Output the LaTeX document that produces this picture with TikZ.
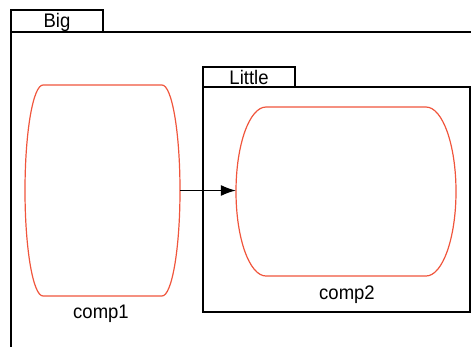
\documentclass[tikz,border=0pt]{standalone}
\usepackage{fontspec}
\setmainfont{Liberation Sans}
\usetikzlibrary{arrows.meta}
\definecolor{compred}{RGB}{240,85,60}
\tikzset{
  frame/.style={draw=black, line width=1.2pt},
  tab/.style={draw=black, line width=1.2pt},
  comp/.style={draw=compred, line width=1.2pt},
  lbl/.style={font=\fontsize{18.5}{20}\selectfont, inner sep=0pt, anchor=base, yscale=1.06, transform shape},
  conn/.style={draw=black, line width=1.1pt, -{Latex[length=15pt,width=11pt]}},
}
\begin{document}
\begin{tikzpicture}[x=1pt,y=-1pt]
\useasboundingbox (0,0) rectangle (471,346);
% Big frame
\draw[tab] (11,10) rectangle (103,32);
\draw[frame] (11,346.5) -- (11,32) -- (471.5,32);
\node[lbl] (bigl) at (57,27.5) {Big};
% Little frame
\draw[tab] (203,67) rectangle (295,87);
\draw[frame] (203,87) rectangle (470,312);
\node[lbl] (littlel) at (249,84) {Little};
% comp1
\node[minimum width=155pt, minimum height=211pt, inner sep=0pt] (comp1) at (102.5,190.5) {};
\draw[comp] (43,85) -- (162,85) arc[start angle=-90, end angle=90, x radius=18, y radius=105.5]
  -- (43,296) arc[start angle=90, end angle=270, x radius=18, y radius=105.5] -- cycle;
\node[lbl] (comp1l) at (101,318) {comp1};
% comp2
\node[minimum width=220pt, minimum height=169pt, inner sep=0pt] (comp2) at (346,191.5) {};
\draw[comp] (266,107) -- (426,107) arc[start angle=-90, end angle=90, x radius=30, y radius=84.5]
  -- (266,276) arc[start angle=90, end angle=270, x radius=30, y radius=84.5] -- cycle;
\node[lbl] (comp2l) at (347,299) {comp2};
% connector
\draw[conn] (comp1.east) -- (comp1.east -| comp2.west);
\end{tikzpicture}
\end{document}
